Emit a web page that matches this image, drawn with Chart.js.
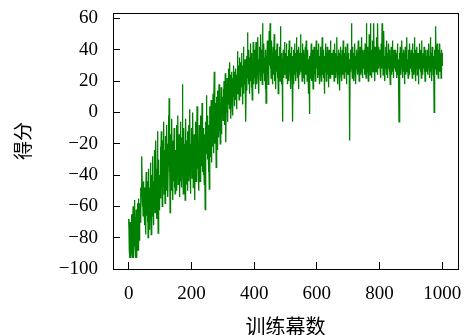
<!DOCTYPE html>
<html>
<head>
<meta charset="utf-8">
<script src="https://cdn.jsdelivr.net/npm/chart.js@4/dist/chart.umd.min.js"></script>
<style>
  html, body { margin: 0; padding: 0; background: #fff; }
  #wrap { width: 465px; height: 335px; }
</style>
</head>
<body>
<div id="wrap"><canvas id="rewardChart"></canvas></div>
<script>
// score per training episode, 0..1000 (two lines = 50 episodes)
const scores = [
  -68,-75,-88,-93,-80,-70,-86,-93,-78,-65,-72,-90,-93,-82,-60,-74,-93,-85,-70,-56,-66,-80,-93,-76,-62,
  -84,-93,-70,-58,-75,-88,-68,-55,-72,-82,-64,-58,-70,-48,-62,-52,-35,-28,-45,-60,-50,-66,-56,-44,-62,
  -55,-72,-48,-62,-78,-50,-38,-66,-58,-44,-70,-52,-80,-60,-36,-68,-48,-75,-56,-32,-62,-46,-78,-54,-40,
  -66,-50,-28,-60,-72,-44,-56,-24,-48,-64,-38,-52,-18,-46,-68,-36,-58,-12,-42,-77,-50,-30,-62,-40,-54,
  -40,-22,-55,-34,-12,-48,-28,-60,-38,-18,-44,-30,-6,-52,-36,-24,-58,-40,-15,-32,-50,-26,-8,-42,-20,
  -54,-34,-2,-28,9,-38,-22,-64,-45,-14,-36,-50,-26,-4,-40,-30,-56,-18,-44,-32,-10,-48,-28,-52,-36,
  -24,-42,-8,-34,-50,-20,-30,-2,-46,-26,-38,-14,-54,-32,-22,-44,-6,-36,-28,-48,-16,18,-40,-24,-52,
  -30,-10,-42,-34,-20,-56,-28,-4,-38,-46,-18,-32,-12,-50,-26,-36,-8,-44,-22,-30,2,-40,-52,-20,-34,
  -26,-10,-42,-18,-34,0,-48,-22,-30,-14,-38,-56,-20,-6,-32,-44,-16,-28,4,-36,-24,-12,-40,-20,-50,
  -8,-30,-18,-44,-2,-26,-34,-12,-22,6,-38,-16,-28,-10,-40,-20,-46,-14,-30,-62,-18,-6,-26,11,-22,
  -12,-30,-2,-20,-38,-8,-24,-49,-14,4,-28,-6,-18,8,-32,-10,0,-22,-4,12,-16,-26,2,26,-8,
  -20,6,-12,-2,-35,-18,10,-6,-24,14,-10,0,-16,18,-4,-12,8,-20,2,-8,16,-14,4,-2,10,
  10,-5,15,2,20,-8,12,5,25,-2,-19,8,18,0,22,10,-6,15,28,5,12,32,2,18,24,
  8,-4,20,14,26,6,16,-2,22,30,10,18,4,26,12,20,8,28,15,2,24,12,39,18,22,
  15,30,8,25,35,18,28,10,32,22,38,16,26,5,30,20,42,12,28,24,18,34,22,2,-6,
  26,36,14,30,51,22,32,18,40,28,12,35,24,44,20,30,16,38,26,8,32,22,45,28,18,
  30,22,40,28,15,36,45,25,32,18,38,28,48,22,34,12,30,42,26,36,20,50,32,24,40,
  28,18,57,30,38,25,44,32,20,35,28,15,40,6,30,36,22,46,28,34,18,40,26,52,30,
  35,57,28,40,22,34,46,26,38,18,30,42,24,36,50,28,20,38,32,15,40,26,34,44,22,
  30,38,12,28,36,24,42,30,20,55,32,26,38,18,34,28,-6,30,40,22,36,28,45,24,32,
  30,38,22,44,28,34,18,36,26,40,32,20,46,28,35,24,38,15,30,42,26,36,22,-6,30,
  40,28,18,34,44,24,32,38,20,30,48,26,36,22,40,28,34,15,42,30,24,38,28,50,32,
  26,38,30,20,44,28,34,22,40,30,18,36,28,42,24,32,46,26,38,20,30,40,24,34,12,
  28,36,-1,30,22,38,28,44,20,32,26,40,30,15,36,28,42,24,34,30,20,38,28,46,32,
  28,36,22,40,30,24,44,28,34,18,36,26,42,30,20,38,28,48,24,34,30,22,40,28,12,
  36,30,44,26,34,20,38,28,42,30,24,36,16,32,40,26,34,22,46,30,28,38,24,34,30,
  32,24,40,28,36,20,34,44,26,30,38,22,34,28,48,26,36,18,32,40,24,30,38,14,34,
  28,42,26,32,36,20,40,30,24,46,28,34,22,38,30,26,42,28,34,18,36,30,44,24,32,
  30,38,24,34,28,-18,32,26,40,36,57,28,34,22,42,30,26,38,20,34,30,44,26,36,18,
  32,40,28,34,24,38,30,46,26,34,20,36,28,42,30,24,38,32,48,26,34,22,40,30,36,
  28,40,32,24,44,30,36,22,57,34,26,42,30,38,20,36,28,50,32,44,24,57,34,28,40,
  22,36,30,46,26,38,32,57,28,34,20,42,30,36,26,48,32,38,24,57,30,36,28,42,34,
  30,40,26,36,22,44,32,28,57,34,38,24,40,30,52,26,36,20,34,42,28,36,24,46,30,
  34,22,38,28,44,32,26,40,30,18,36,28,42,24,34,30,46,26,38,32,22,40,28,36,30,
  34,26,40,30,22,38,28,44,24,34,30,20,-6,32,38,26,42,30,24,36,28,46,32,22,38,
  30,26,40,34,18,36,28,42,30,24,38,32,48,26,34,30,22,40,28,36,24,44,30,34,28,
  32,40,26,36,22,44,30,28,38,24,34,30,48,26,36,20,40,32,28,42,24,36,30,38,18,
  34,28,44,30,36,26,40,32,22,46,28,36,30,24,38,32,28,42,26,34,20,40,30,36,28,
  34,26,40,30,24,38,28,44,32,22,36,30,48,26,34,20,38,30,42,28,34,24,36,30,0,
  32,40,28,36,55,30,38,24,34,44,28,32,22,40,30,36,26,44,32,28,38,22,34,40,30,
  38
];
const xTicks = [0, 200, 400, 600, 800, 1000];
const yTicks = [-100, -80, -60, -40, -20, 0, 20, 40, 60];
const xLabel = '训练幕数';
const yLabel = '得分';

const points = scores.map((s, i) => ({ x: i, y: s }));

const serif = '"Liberation Serif", "DejaVu Serif", serif';
const cjk = '"Noto Sans CJK SC", sans-serif';

// full frame round the plot area
const frame = {
  id: 'frame',
  afterDraw(chart) {
    const { ctx, chartArea: a } = chart;
    ctx.save();
    ctx.strokeStyle = '#000';
    ctx.lineWidth = 1;
    ctx.strokeRect(Math.round(a.left) + 0.5, Math.round(a.top) + 0.5,
      Math.round(a.right - a.left), Math.round(a.bottom - a.top));
    ctx.restore();
  }
};

new Chart(document.getElementById('rewardChart'), {
  type: 'line',
  data: {
    datasets: [{
      data: points,
      borderColor: '#008000',
      borderWidth: 1.3,
      pointRadius: 0,
      tension: 0,
      fill: false
    }]
  },
  options: {
    animation: false,
    responsive: true,
    maintainAspectRatio: false,
    layout: { padding: { top: 13, right: 7, left: 0, bottom: 0 } },
    plugins: { legend: { display: false }, tooltip: { enabled: false } },
    scales: {
      x: {
        type: 'linear',
        min: -50,
        max: 1050,
        afterBuildTicks: s => { s.ticks = xTicks.map(v => ({ value: v })); },
        afterFit: s => { s.height = 66; s.paddingLeft = 0; s.paddingRight = 0; },
        grid: { drawOnChartArea: false, tickLength: -7, color: '#000' },
        border: { color: '#000', width: 1 },
        ticks: {
          color: '#000', padding: 21, maxRotation: 0, font: { family: serif, size: 19 },
          callback: v => String(v)
        },
        title: { display: true, text: xLabel, color: '#000', padding: { top: 0, bottom: -3 },
                 font: { family: cjk, size: 20 } }
      },
      y: {
        min: -100,
        max: 63.5,
        afterBuildTicks: s => { s.ticks = yTicks.map(v => ({ value: v })); },
        afterFit: s => { s.width = 113; s.paddingTop = 0; s.paddingBottom = 0; },
        grid: { drawOnChartArea: false, tickLength: -7, color: '#000' },
        border: { color: '#000', width: 1 },
        ticks: {
          color: '#000', padding: 22, font: { family: serif, size: 19 },
          callback: v => String(v).replace('-', '\u2212')
        },
        title: { display: true, text: yLabel, color: '#000', padding: { top: 11, bottom: 0 },
                 font: { family: cjk, size: 19 } }
      }
    }
  },
  plugins: [frame]
});
</script>
</body>
</html>
